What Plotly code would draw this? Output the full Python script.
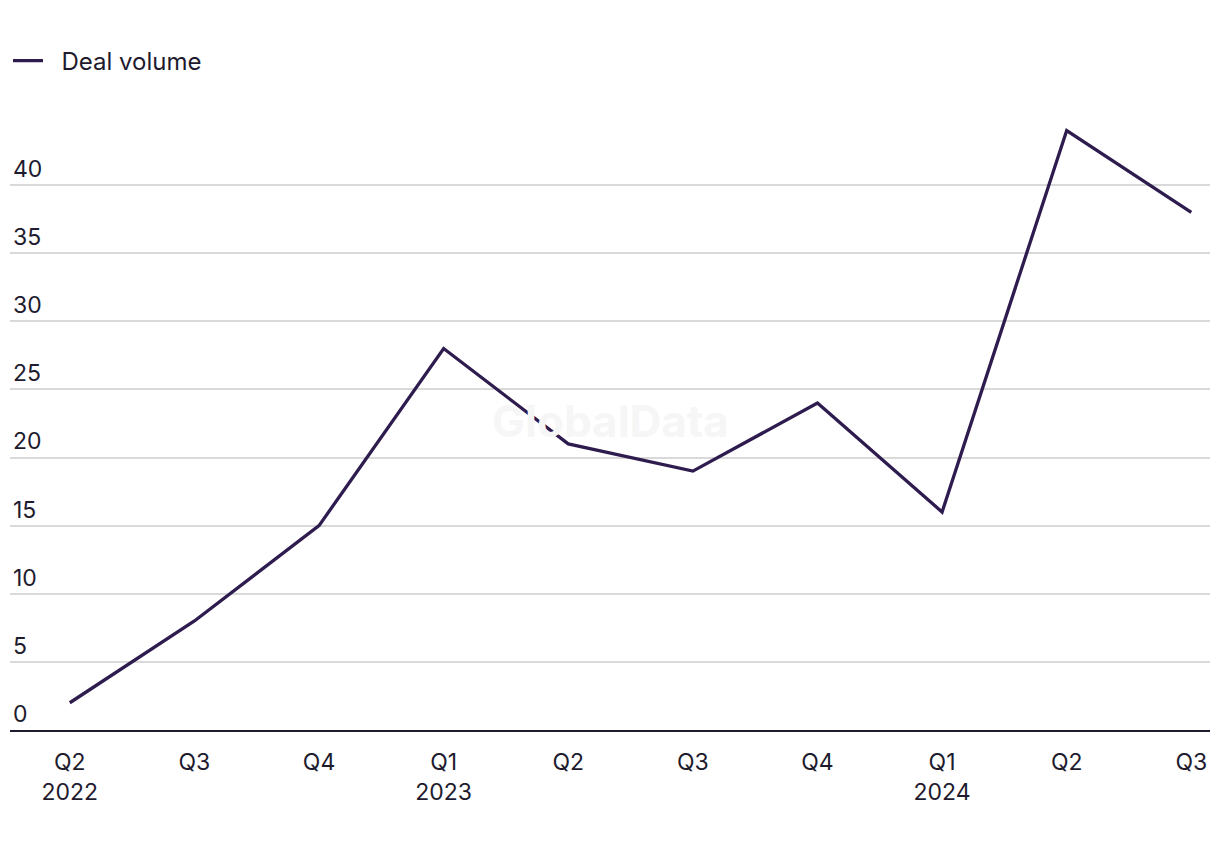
import plotly.graph_objects as go

periods = ["2022 Q2", "2022 Q3", "2022 Q4", "2023 Q1", "2023 Q2", "2023 Q3",
           "2023 Q4", "2024 Q1", "2024 Q2", "2024 Q3"]
tick_labels = ["Q2<br>2022", "Q3", "Q4", "Q1<br>2023", "Q2", "Q3", "Q4",
               "Q1<br>2024", "Q2", "Q3"]
deal_volume = [2, 8, 15, 28, 21, 19, 24, 16, 44, 38]
y_ticks = [0, 5, 10, 15, 20, 25, 30, 35, 40]

TEXT = "#1e1b2e"
LINE = "#2f1c4f"
FONT = "Inter, Roboto, 'Noto Sans', sans-serif"

W, H = 1204, 834

fig = go.Figure()
fig.add_trace(go.Scatter(
    x=periods, y=deal_volume, mode="lines", name="\u00a0\u00a0Deal volume",
    line=dict(color=LINE, width=3.3),
))

fig.add_annotation(
    text="GlobalData", xref="paper", yref="paper", x=0.5, y=0.49,
    showarrow=False, font=dict(size=44, color="#f6f6f6", family=FONT, weight="bold"),
)

fig.update_layout(
    width=W, height=H,
    paper_bgcolor="white", plot_bgcolor="white",
    margin=dict(l=2, r=2, t=92, b=112, autoexpand=False),
    font=dict(family=FONT, size=23, color=TEXT),
    showlegend=True,
    legend=dict(
        xref="container", yref="container", x=-6 / W, y=1 - 53 / H,
        xanchor="left", yanchor="middle", orientation="h",
        font=dict(size=24, color=TEXT, family=FONT),
        bgcolor="rgba(0,0,0,0)",
    ),
    xaxis=dict(
        type="category", categoryorder="array", categoryarray=periods,
        tickvals=periods, ticktext=tick_labels,
        range=[-0.48, 9.15], automargin=False,
        showgrid=False, showline=True, linecolor=TEXT, linewidth=2,
        ticks="", tickfont=dict(size=23, color=TEXT),
        ticklabelstandoff=10,
        fixedrange=True,
    ),
    yaxis=dict(
        range=[0, 46.24], tickvals=y_ticks, automargin=False,
        showgrid=True, gridcolor="#d9d9d9", gridwidth=1.5,
        zeroline=False, showline=False, ticks="",
        ticklabelposition="inside top",
        tickfont=dict(size=23, color=TEXT),
    ),
)

fig.write_html("out.html")
